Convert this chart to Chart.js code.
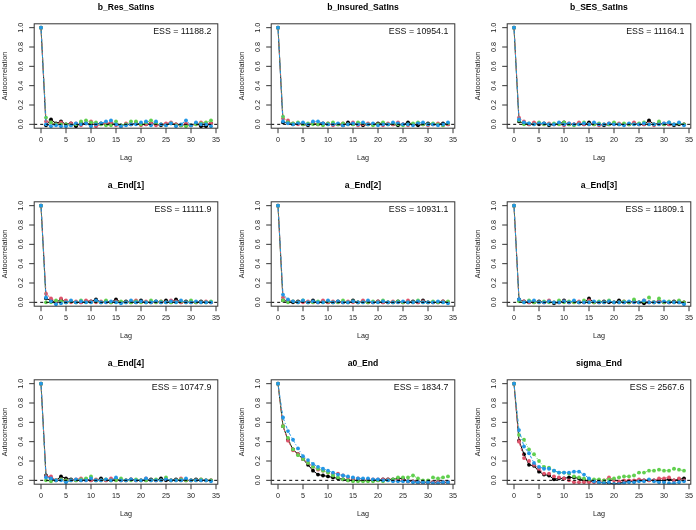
<!DOCTYPE html>
<html>
<head>
<meta charset="utf-8">
<script src="https://cdn.jsdelivr.net/npm/chart.js@4.4.1/dist/chart.umd.min.js"></script>
<style>
  body { margin: 0; background: #fff; }
  #grid { position: relative; width: 696px; height: 530px; overflow: hidden; }
  #grid canvas { position: absolute; }
</style>
</head>
<body>
<div id="grid"></div>
<script>
// lags and axis ticks
var lags = [0,1,2,3,4,5,6,7,8,9,10,11,12,13,14,15,16,17,18,19,20,21,22,23,24,25,26,27,28,29,30,31,32,33,34];
var xTicks = [0,5,10,15,20,25,30,35];
var yTicks = [0,0.2,0.4,0.6,0.8,1.0];

var titles = ['b_Res_SatIns','b_Insured_SatIns','b_SES_SatIns','a_End[1]','a_End[2]','a_End[3]','a_End[4]','a0_End','sigma_End'];
var essLabels = ['ESS = 11188.2','ESS = 10954.1','ESS = 11164.1','ESS = 11111.9','ESS = 10931.1','ESS = 11809.1','ESS = 10747.9','ESS = 1834.7','ESS = 2567.6'];

// chains: black, red, green, blue
var chainColors = ['#000000','#DF536B','#61D04F','#2297E6'];
var chainDash = [[], [3,2], [1,2], [1,2,3,2]];

// autocorrelations per parameter, one row per chain
var acf_b_Res_SatIns = [
  [1,-0.01,0.05,0.01,0.03,0.0,0.01,-0.02,0.01,0.01,0.0,0.0,0.01,0.0,0.01,0.0,-0.01,0.0,0.0,0.01,0.0,0.0,0.01,0.0,-0.01,0.0,0.01,0.0,-0.01,0.0,-0.01,0.01,-0.02,-0.02,0.01],
  [1,0.03,0.02,0.0,0.02,-0.01,0.01,0.01,-0.01,0.01,0.03,-0.02,0.0,0.01,0.02,-0.01,-0.02,0.01,0.0,0.02,-0.01,0.0,0.01,-0.01,0.0,0.01,0.02,0.0,-0.01,0.01,-0.01,0.0,0.02,0.01,0.01],
  [1,0.07,0.02,0.0,0.0,0.0,-0.01,0.0,0.03,0.04,0.02,0.02,0.0,-0.01,-0.01,0.03,-0.01,0.0,0.03,0.03,0.0,0.02,0.04,0.01,0.0,-0.01,0.01,-0.01,-0.01,-0.02,-0.01,0.0,0.01,0.02,0.04],
  [1,0.0,-0.02,-0.01,-0.02,-0.02,-0.01,0.01,0.0,0.01,-0.02,0.0,0.01,0.03,0.04,0.0,-0.02,-0.01,0.0,0.0,0.02,0.03,-0.01,0.03,0.0,-0.01,0.01,-0.02,0.0,0.04,-0.01,0.02,0.0,0.0,-0.02]
];
var acf_b_Insured_SatIns = [
  [1,0.02,0.02,0.0,0.01,0.0,-0.01,0.01,0.0,0.01,0.0,0.0,0.0,-0.01,0.02,0.0,0.01,-0.01,0.0,0.0,0.01,0.01,0.0,0.0,-0.01,0.0,0.02,0.0,-0.01,0.0,0.01,0.0,0.0,0.01,0.0],
  [1,0.06,0.04,0.01,0.0,0.01,0.0,0.02,0.0,0.0,0.01,-0.01,0.0,0.01,0.0,0.02,-0.01,0.0,0.01,0.0,0.0,-0.01,0.01,0.0,0.02,0.0,-0.01,0.0,0.01,0.0,-0.01,0.0,0.01,-0.01,0.0],
  [1,0.08,0.02,0.01,0.02,0.0,0.01,0.0,0.0,-0.01,0.01,0.02,0.0,0.01,0.0,0.0,0.02,0.01,0.0,-0.01,0.0,0.02,0.0,0.01,0.0,-0.01,0.0,0.01,0.02,0.0,0.0,0.01,0.0,-0.01,0.01],
  [1,0.03,0.01,0.0,0.01,0.02,0.0,0.03,0.03,0.01,0.0,0.0,0.01,-0.01,0.0,0.01,0.0,0.02,0.0,0.01,-0.01,0.0,0.0,0.02,0.01,0.0,0.0,-0.01,0.01,0.02,0.0,0.0,-0.01,0.0,0.02]
];
var acf_b_SES_SatIns = [
  [1,0.03,0.01,0.0,0.01,0.0,0.01,-0.01,0.0,0.01,0.02,0.0,0.0,0.01,0.0,0.02,0.0,0.0,-0.01,0.0,0.01,0.0,0.0,0.0,0.01,0.0,0.0,0.04,0.0,0.01,0.0,0.0,-0.01,0.0,0.0],
  [1,0.07,0.03,0.0,0.02,0.01,0.0,0.01,0.0,0.0,-0.01,0.01,0.0,0.02,0.0,0.0,0.01,-0.01,0.0,0.01,0.0,0.01,0.0,0.0,0.02,0.0,0.0,0.01,-0.01,0.0,0.01,0.0,0.0,0.01,0.0],
  [1,0.04,0.0,0.01,0.0,0.02,0.0,0.0,0.01,0.0,0.02,0.0,-0.01,0.0,0.02,0.0,0.0,0.01,0.0,0.0,0.02,0.0,0.01,0.0,0.0,0.01,0.02,0.0,0.0,0.03,0.0,0.02,0.0,0.01,0.0],
  [1,0.05,0.02,0.01,0.0,0.01,0.01,0.0,0.0,0.02,0.0,0.01,0.0,0.0,0.01,0.0,0.02,0.0,0.0,0.01,0.0,0.0,-0.01,0.01,0.0,0.0,0.01,0.0,0.0,0.0,0.01,0.02,0.0,0.02,-0.01]
];
var acf_a_End1 = [
  [1,0.04,0.02,0.0,0.03,0.0,0.01,0.0,0.0,0.01,0.01,0.03,0.0,0.01,0.0,0.03,0.0,0.01,0.0,0.0,0.02,0.0,0.0,0.01,0.0,0.02,0.0,0.03,0.0,0.01,0.0,0.0,0.01,0.0,0.0],
  [1,0.09,0.04,0.01,0.04,0.02,0.0,0.01,0.0,0.02,0.01,0.0,0.01,0.0,0.0,0.01,0.0,0.0,0.01,0.02,0.0,0.01,0.0,0.0,0.01,0.0,0.02,0.01,0.0,0.0,0.01,0.0,0.0,0.01,0.0],
  [1,0.0,0.0,0.02,0.01,0.0,0.01,0.0,0.02,0.0,0.0,0.01,0.0,0.02,0.0,0.0,0.01,0.0,0.0,0.01,0.0,0.0,0.02,0.0,0.01,0.0,0.0,0.0,0.01,0.0,0.02,0.0,0.0,0.0,0.01],
  [1,0.05,0.01,-0.02,-0.01,0.0,0.02,0.0,0.01,0.0,0.0,0.02,0.0,0.0,0.01,0.0,-0.01,0.0,0.02,0.0,0.01,0.0,0.0,0.01,0.0,0.0,0.01,0.0,0.02,0.0,0.0,0.01,0.0,0.0,0.0]
];
var acf_a_End2 = [
  [1,0.02,0.01,0.0,0.01,0.01,0.0,0.02,0.0,0.01,0.0,0.0,0.01,0.0,0.0,0.02,0.0,0.01,0.0,0.0,0.01,0.0,0.0,0.0,0.01,0.0,0.0,0.01,0.0,0.02,0.0,0.0,0.0,0.01,0.0],
  [1,0.05,0.02,0.01,0.0,0.0,0.01,0.0,0.0,0.02,0.0,0.01,0.0,0.0,0.01,0.0,0.0,0.02,0.0,0.0,0.01,0.0,0.0,0.01,0.0,0.0,0.02,0.0,0.0,0.01,0.0,0.0,0.0,0.01,0.0],
  [1,0.02,0.0,0.01,0.0,0.02,0.0,0.0,0.01,0.0,0.01,0.0,0.0,0.02,0.0,0.01,0.0,0.0,0.0,0.01,0.0,0.02,0.0,0.0,0.01,0.0,0.0,0.0,0.02,0.0,0.0,0.01,0.0,0.0,0.01],
  [1,0.08,0.03,0.01,0.0,0.02,0.0,0.01,0.0,0.0,0.02,0.0,0.01,0.0,0.0,0.01,0.0,0.0,0.02,0.0,0.0,0.01,0.0,0.0,0.0,0.01,0.0,0.0,0.01,0.0,0.0,0.0,0.01,0.0,-0.01]
];
var acf_a_End3 = [
  [1,0.03,0.01,0.0,0.0,0.01,0.0,0.01,-0.01,0.0,0.02,0.0,0.01,0.0,0.0,0.04,0.0,0.0,0.01,0.0,0.0,0.02,0.0,0.0,0.01,0.0,-0.01,0.0,0.0,0.01,0.0,0.0,0.01,0.0,0.0],
  [1,0.02,0.01,0.0,0.01,0.0,0.0,0.02,0.0,0.0,0.01,0.0,0.0,0.01,0.0,0.02,0.0,0.0,0.0,0.01,0.0,0.0,0.01,0.0,0.0,0.0,0.02,0.0,0.0,0.01,0.0,0.0,0.0,0.01,0.0],
  [1,0.01,0.0,0.02,0.0,0.0,0.01,0.0,0.0,0.02,0.0,0.01,0.0,0.0,0.02,0.0,0.0,0.01,0.0,0.02,0.0,0.0,0.01,0.0,0.03,0.0,0.01,0.05,0.0,0.04,0.0,0.01,0.0,0.02,0.0],
  [1,0.03,0.0,0.01,0.02,0.0,0.0,0.01,0.0,0.0,0.01,0.0,0.02,0.0,0.0,0.0,0.01,0.0,0.0,0.01,0.0,0.0,0.0,0.01,0.0,0.0,0.02,0.0,0.0,0.0,0.01,0.0,0.0,0.0,-0.02]
];
var acf_a_End4 = [
  [1,0.05,0.02,0.0,0.04,0.02,0.01,0.0,0.0,0.01,0.0,0.0,0.02,0.0,0.0,0.01,0.0,0.0,0.01,0.0,0.0,0.0,0.01,0.0,0.02,0.0,0.0,0.01,0.0,0.0,0.0,0.01,0.0,0.0,0.0],
  [1,0.04,0.04,0.0,0.01,0.0,0.0,0.01,0.02,0.0,0.0,0.01,0.0,0.0,0.02,0.0,0.0,0.0,0.01,0.0,0.0,0.02,0.0,0.0,0.0,0.01,0.0,0.0,0.02,0.0,0.0,0.0,0.01,0.0,0.0],
  [1,0.0,-0.01,0.0,0.01,0.0,0.0,0.0,0.01,0.02,0.04,0.0,0.0,0.01,0.0,0.0,0.02,0.0,0.0,0.01,0.0,0.0,0.0,0.01,0.0,0.03,0.0,0.0,0.01,0.0,0.0,0.0,0.01,0.0,0.0],
  [1,0.03,0.02,0.0,0.0,-0.02,0.0,0.01,0.0,0.0,0.02,0.0,0.0,0.01,0.0,0.03,0.0,0.0,0.01,0.0,0.0,0.02,0.0,0.0,0.0,0.01,0.0,0.0,0.0,0.02,0.0,0.0,0.0,0.0,-0.01]
];
var acf_a0_End = [
  [1,0.56,0.42,0.32,0.27,0.22,0.16,0.10,0.06,0.05,0.04,0.03,0.02,0.01,0.0,0.0,0.0,0.0,0.0,0.0,0.0,0.01,0.01,0.01,0.02,0.02,-0.01,-0.01,-0.02,-0.02,-0.02,-0.02,-0.02,-0.02,-0.02],
  [1,0.56,0.41,0.31,0.27,0.22,0.18,0.14,0.11,0.10,0.08,0.07,0.07,0.05,0.03,0.02,0.02,0.01,0.01,0.01,0.01,0.01,0.01,0.0,0.0,0.0,-0.01,-0.01,-0.02,-0.02,-0.02,-0.02,-0.02,-0.02,-0.02],
  [1,0.56,0.44,0.32,0.26,0.22,0.18,0.14,0.12,0.10,0.08,0.05,0.03,0.01,0.0,-0.01,-0.01,-0.01,-0.01,-0.01,0.0,-0.01,0.0,0.01,0.03,0.03,0.03,0.05,0.02,0.0,0.0,0.03,0.02,0.03,0.04],
  [1,0.65,0.51,0.42,0.33,0.25,0.21,0.17,0.14,0.12,0.10,0.08,0.06,0.05,0.04,0.03,0.02,0.02,0.02,0.01,0.01,0.0,0.0,-0.01,-0.01,-0.01,-0.01,-0.02,-0.02,-0.02,-0.02,-0.03,-0.03,-0.02,-0.02]
];
var acf_sigma_End = [
  [1,0.41,0.27,0.16,0.15,0.09,0.06,0.05,0.01,0.02,0.02,0.03,0.03,0.02,0.0,-0.01,-0.01,-0.02,-0.02,-0.03,-0.04,-0.03,-0.02,-0.01,-0.01,0.0,0.0,0.0,0.0,0.0,0.0,0.01,0.0,0.01,0.02],
  [1,0.40,0.23,0.20,0.16,0.12,0.07,0.07,0.04,0.03,0.02,0.0,-0.02,-0.02,-0.02,-0.02,-0.02,-0.01,0.0,0.03,0.0,-0.01,0.0,0.0,0.0,0.01,0.0,0.0,0.0,0.02,0.02,0.03,0.0,0.02,0.0],
  [1,0.47,0.42,0.32,0.27,0.20,0.14,0.13,0.10,0.08,0.08,0.07,0.04,0.03,0.02,0.01,0.01,0.01,0.0,0.01,0.02,0.03,0.04,0.04,0.05,0.08,0.08,0.10,0.10,0.11,0.10,0.10,0.12,0.11,0.10],
  [1,0.52,0.35,0.28,0.18,0.14,0.12,0.12,0.10,0.08,0.08,0.08,0.09,0.09,0.06,0.02,-0.01,-0.02,-0.03,-0.02,-0.04,-0.04,-0.03,-0.02,-0.02,-0.01,-0.01,0.01,-0.01,-0.02,-0.02,-0.03,-0.03,-0.02,-0.01]
];

var panels = [acf_b_Res_SatIns, acf_b_Insured_SatIns, acf_b_SES_SatIns,
              acf_a_End1, acf_a_End2, acf_a_End3,
              acf_a_End4, acf_a0_End, acf_sigma_End];

var FONT = '"Liberation Sans", Arial, sans-serif';

// base-R style frame: box, ticks, labels, title, ESS, zero line
var rFrame = {
  id: 'rFrame',
  afterDatasetsDraw: function (chart) {
    var ctx = chart.ctx, a = chart.chartArea, y0 = chart.scales.y.getPixelForValue(0);
    ctx.save();
    ctx.strokeStyle = '#000';
    ctx.lineWidth = 1;
    ctx.setLineDash([3, 3]);
    ctx.beginPath();
    ctx.moveTo(a.left, y0);
    ctx.lineTo(a.right, y0);
    ctx.stroke();
    ctx.restore();
  },
  afterDraw: function (chart, args, opts) {
    var ctx = chart.ctx, a = chart.chartArea;
    var sx = chart.scales.x, sy = chart.scales.y;
    var cx = (a.left + a.right) / 2;
    ctx.save();
    ctx.strokeStyle = '#333';
    ctx.fillStyle = '#222';
    ctx.lineWidth = 1;
    ctx.strokeRect(a.left, a.top, a.right - a.left, a.bottom - a.top);

    ctx.beginPath();
    xTicks.forEach(function (t) {
      var px = sx.getPixelForValue(t);
      ctx.moveTo(px, a.bottom);
      ctx.lineTo(px, a.bottom + 5);
    });
    yTicks.forEach(function (t) {
      var py = sy.getPixelForValue(t);
      ctx.moveTo(a.left, py);
      ctx.lineTo(a.left - 5, py);
    });
    ctx.stroke();

    ctx.font = '7.2px ' + FONT;
    ctx.textAlign = 'center';
    ctx.textBaseline = 'middle';
    xTicks.forEach(function (t) {
      ctx.fillText(String(t), sx.getPixelForValue(t), a.bottom + 12);
    });
    yTicks.forEach(function (t) {
      ctx.save();
      ctx.translate(a.left - 13.5, sy.getPixelForValue(t));
      ctx.rotate(-Math.PI / 2);
      ctx.fillText(t.toFixed(1), 0, 0);
      ctx.restore();
    });

    ctx.fillText('Lag', cx, a.bottom + 30);
    ctx.save();
    ctx.translate(5.5, (a.top + a.bottom) / 2);
    ctx.rotate(-Math.PI / 2);
    ctx.fillText('Autocorrelation', 0, 0);
    ctx.restore();

    ctx.fillStyle = '#000';
    ctx.font = 'bold 8.6px ' + FONT;
    ctx.fillText(opts.title, cx, 7.5);

    ctx.font = '8.8px ' + FONT;
    ctx.textAlign = 'right';
    ctx.fillStyle = '#111';
    ctx.fillText(opts.ess, a.right - 6.5, a.top + 7.5);
    ctx.restore();
  }
};

var grid = document.getElementById('grid');
var colLeft = [0, 237, 473];
var rowTop = [0, 178, 356];

panels.forEach(function (chains, p) {
  var cv = document.createElement('canvas');
  cv.width = 237;
  cv.height = 178;
  cv.style.left = colLeft[p % 3] + 'px';
  cv.style.top = rowTop[Math.floor(p / 3)] + 'px';
  grid.appendChild(cv);

  var datasets = chains.map(function (vals, i) {
    return {
      data: lags.map(function (l, j) { return { x: l, y: vals[j] }; }),
      borderColor: chainColors[i],
      backgroundColor: chainColors[i],
      pointBackgroundColor: chainColors[i],
      borderWidth: 1,
      borderDash: chainDash[i],
      pointRadius: 1.9,
      pointBorderWidth: 0,
      tension: 0,
      order: 4 - i
    };
  });

  new Chart(cv, {
    type: 'line',
    data: { datasets: datasets },
    options: {
      responsive: false,
      animation: false,
      events: [],
      layout: { padding: { left: 34.2, right: 19.2, top: 23.8, bottom: 49.8 } },
      scales: {
        x: { type: 'linear', min: -1.36, max: 35.36, display: false },
        y: { type: 'linear', min: -0.04, max: 1.04, display: false }
      },
      plugins: {
        legend: { display: false },
        tooltip: { enabled: false },
        rFrame: { title: titles[p], ess: essLabels[p] }
      }
    },
    plugins: [rFrame]
  });
});
</script>
</body>
</html>
